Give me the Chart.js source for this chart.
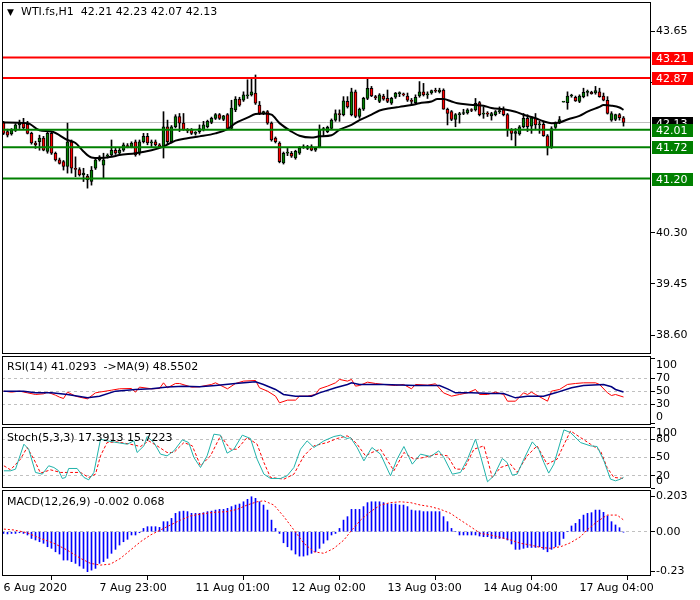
<!DOCTYPE html>
<html>
<head>
<meta charset="utf-8">
<script src="https://cdn.jsdelivr.net/npm/chart.js@4.4.1/dist/chart.umd.min.js"></script>
<style>
html, body { margin: 0; padding: 0; width: 700px; height: 600px; overflow: hidden; background: #fff; }
canvas { position: absolute; left: 0; }
.hdr { position: absolute; font: 11px "DejaVu Sans", sans-serif; color: #000; white-space: pre; line-height: 14px; z-index: 5; }
</style>
</head>
<body>
<canvas id="main" width="700" height="384" style="top:-14px"></canvas>
<canvas id="rsi" width="700" height="101" style="top:340px"></canvas>
<canvas id="stoch" width="700" height="93" style="top:411px"></canvas>
<canvas id="macd" width="700" height="126" style="top:474px"></canvas>
<div class="hdr" style="left:7px;top:5px;font-size:9px">&#9660;</div>
<div class="hdr" id="mainTitle" style="left:21px;top:5px"></div>
<div class="hdr" style="left:7px;top:360px">RSI(14) 41.0293  -&gt;MA(9) 48.5502</div>
<div class="hdr" style="left:7px;top:431px">Stoch(5,3,3) 17.3913 15.7223</div>
<div class="hdr" style="left:7px;top:495px">MACD(12,26,9) -0.002 0.068</div>
<script>
// WTI.fs H1 candles, one entry per hourly bar
const open = [
  42.13, 41.98, 41.94, 42.00, 42.09, 42.12, 42.10, 41.95, 41.79, 41.81,
  41.87, 41.65, 41.95, 41.62, 41.51, 41.48, 41.40, 41.81, 41.37, 41.35,
  41.26, 41.24, 41.15, 41.37, 41.51, 41.42, 41.57, 41.59, 41.67, 41.62,
  41.67, 41.74, 41.73, 41.81, 41.62, 41.81, 41.90, 41.79, 41.81, 41.76,
  41.73, 42.06, 41.81, 42.06, 42.23, 42.12, 42.01, 42.01, 41.95, 41.98,
  42.01, 42.06, 42.13, 42.20, 42.26, 42.18, 42.26, 42.03, 42.34, 42.52,
  42.50, 42.57, 42.59, 42.62, 42.42, 42.28, 42.31, 42.12, 41.87, 41.79,
  41.46, 41.62, 41.62, 41.54, 41.62, 41.71, 41.73, 41.73, 41.67, 41.73,
  42.01, 41.98, 42.03, 42.17, 42.28, 42.26, 42.48, 42.26, 42.64, 42.23,
  42.35, 42.53, 42.70, 42.56, 42.48, 42.57, 42.53, 42.45, 42.55, 42.61,
  42.60, 42.57, 42.49, 42.46, 42.57, 42.64, 42.59, 42.62, 42.66, 42.64,
  42.67, 42.35, 42.31, 42.18, 42.26, 42.28, 42.29, 42.34, 42.34, 42.46,
  42.27, 42.28, 42.24, 42.26, 42.31, 42.34, 42.26, 42.01, 41.95, 41.94,
  42.06, 42.20, 42.07, 42.20, 42.09, 42.10, 41.91, 41.72, 42.05, 42.13,
  42.47, 42.46, 42.57, 42.55, 42.48, 42.56, 42.63, 42.63, 42.62, 42.64,
  42.57, 42.50, 42.17, 42.18, 42.26, 42.21
];
const high = [
  42.15, 42.02, 42.03, 42.11, 42.17, 42.20, 42.15, 41.97, 41.82, 41.92,
  41.90, 41.97, 41.98, 41.64, 41.54, 41.50, 42.12, 41.84, 41.56, 41.38,
  41.37, 41.27, 41.40, 41.53, 41.58, 41.62, 41.61, 41.84, 41.70, 41.70,
  41.79, 41.78, 41.81, 41.84, 41.84, 41.95, 41.95, 41.84, 41.84, 41.78,
  42.31, 42.17, 42.08, 42.26, 42.28, 42.28, 42.03, 42.03, 41.98, 42.09,
  42.15, 42.17, 42.22, 42.28, 42.28, 42.25, 42.28, 42.50, 42.56, 42.55,
  42.64, 42.84, 42.86, 42.92, 42.48, 42.32, 42.33, 42.14, 41.89, 41.81,
  41.64, 41.70, 41.65, 41.67, 41.73, 41.76, 41.75, 41.76, 41.72, 42.09,
  42.05, 42.07, 42.19, 42.34, 42.34, 42.56, 42.56, 42.70, 42.67, 42.37,
  42.55, 42.86, 42.73, 42.58, 42.61, 42.60, 42.67, 42.55, 42.63, 42.64,
  42.62, 42.62, 42.53, 42.59, 42.81, 42.78, 42.64, 42.67, 42.70, 42.70,
  42.69, 42.37, 42.33, 42.28, 42.30, 42.35, 42.36, 42.36, 42.53, 42.48,
  42.39, 42.31, 42.30, 42.33, 42.39, 42.39, 42.28, 42.03, 42.03, 42.08,
  42.28, 42.26, 42.23, 42.28, 42.15, 42.15, 41.93, 42.06, 42.14, 42.23,
  42.47, 42.64, 42.60, 42.57, 42.59, 42.70, 42.67, 42.65, 42.73, 42.70,
  42.62, 42.56, 42.31, 42.27, 42.28, 42.23
];
const low = [
  41.93, 41.89, 41.92, 41.98, 42.03, 42.02, 41.94, 41.77, 41.70, 41.67,
  41.66, 41.62, 41.60, 41.49, 41.44, 41.34, 41.29, 41.29, 41.23, 41.24,
  41.15, 41.04, 41.09, 41.35, 41.49, 41.20, 41.54, 41.56, 41.60, 41.60,
  41.65, 41.71, 41.71, 41.57, 41.59, 41.79, 41.76, 41.73, 41.74, 41.71,
  41.54, 41.76, 41.79, 42.04, 41.98, 42.00, 41.96, 41.93, 41.92, 41.95,
  41.99, 42.04, 42.11, 42.18, 42.18, 42.16, 42.02, 42.01, 42.31, 42.40,
  42.48, 42.53, 42.57, 42.43, 42.26, 42.26, 42.10, 41.82, 41.79, 41.46,
  41.44, 41.58, 41.55, 41.52, 41.60, 41.70, 41.68, 41.66, 41.65, 41.71,
  41.90, 41.96, 42.01, 42.15, 42.15, 42.24, 42.37, 42.24, 42.21, 42.20,
  42.33, 42.51, 42.56, 42.51, 42.46, 42.50, 42.46, 42.43, 42.53, 42.56,
  42.57, 42.48, 42.42, 42.44, 42.55, 42.57, 42.53, 42.60, 42.63, 42.62,
  42.35, 42.09, 42.16, 42.06, 42.12, 42.26, 42.27, 42.31, 42.32, 42.24,
  42.20, 42.23, 42.17, 42.24, 42.28, 42.24, 41.90, 41.84, 41.74, 41.92,
  42.04, 41.98, 41.95, 42.01, 41.95, 41.90, 41.59, 41.70, 42.03, 42.11,
  42.47, 42.35, 42.55, 42.48, 42.46, 42.54, 42.57, 42.60, 42.60, 42.55,
  42.49, 42.27, 42.15, 42.16, 42.17, 42.07
];
const close = [
  41.95, 41.92, 42.00, 42.09, 42.12, 42.04, 41.95, 41.79, 41.76, 41.87,
  41.67, 41.95, 41.62, 41.51, 41.45, 41.40, 41.81, 41.37, 41.35, 41.26,
  41.29, 41.18, 41.34, 41.51, 41.56, 41.51, 41.59, 41.67, 41.62, 41.67,
  41.76, 41.73, 41.79, 41.59, 41.81, 41.90, 41.79, 41.81, 41.76, 41.73,
  42.06, 41.81, 42.06, 42.23, 42.12, 42.01, 41.99, 41.95, 41.96, 42.03,
  42.09, 42.15, 42.20, 42.26, 42.20, 42.24, 42.03, 42.37, 42.52, 42.42,
  42.59, 42.59, 42.64, 42.45, 42.28, 42.31, 42.12, 41.84, 41.81, 41.48,
  41.62, 41.64, 41.57, 41.65, 41.71, 41.73, 41.70, 41.67, 41.70, 42.01,
  42.03, 42.05, 42.17, 42.28, 42.26, 42.49, 42.39, 42.64, 42.23, 42.35,
  42.53, 42.70, 42.57, 42.54, 42.59, 42.52, 42.48, 42.53, 42.62, 42.62,
  42.59, 42.50, 42.48, 42.55, 42.64, 42.59, 42.60, 42.66, 42.65, 42.67,
  42.35, 42.28, 42.18, 42.26, 42.28, 42.29, 42.34, 42.33, 42.45, 42.26,
  42.28, 42.27, 42.28, 42.31, 42.33, 42.26, 42.01, 41.95, 41.98, 42.06,
  42.20, 42.06, 42.21, 42.09, 42.10, 41.91, 41.73, 42.03, 42.13, 42.18,
  42.47, 42.57, 42.58, 42.49, 42.57, 42.63, 42.63, 42.61, 42.66, 42.56,
  42.50, 42.28, 42.28, 42.26, 42.21, 42.13
];

// moving average on price, read as [bar, price]
const maLine = [
  [0, 42.13], [6, 42.12], [9, 42.00], [12, 41.98], [16, 41.84], [18, 41.79], [20, 41.65],
  [22, 41.55], [24, 41.54], [27, 41.56], [29, 41.59], [33, 41.62], [37, 41.67], [40, 41.73],
  [43, 41.83], [46, 41.87], [49, 41.90], [53, 41.95], [56, 42.02], [58, 42.12], [61, 42.21],
  [63, 42.27], [65, 42.28], [67, 42.26], [69, 42.12], [72, 41.98], [74, 41.91], [77, 41.88],
  [79, 41.90], [82, 41.92], [84, 42.01], [87, 42.09], [89, 42.17], [92, 42.26], [94, 42.33],
  [97, 42.37], [99, 42.39], [102, 42.42], [104, 42.45], [107, 42.48], [108.5, 42.52],
  [110, 42.52], [112, 42.48], [113.5, 42.45], [116, 42.43], [118, 42.42], [120, 42.41],
  [122, 42.37], [125, 42.35], [128, 42.31], [130, 42.26], [133, 42.20], [135, 42.15],
  [137, 42.12], [139, 42.13], [141, 42.18], [144, 42.24], [146, 42.31], [149, 42.39],
  [150, 42.42], [152, 42.41], [154, 42.38], [155, 42.34]
];

const resistance = [43.21, 42.87];
const support = [42.01, 41.72, 41.20];
const bid = 42.13;
const priceTicks = [38.60, 39.45, 40.30, 42.80, 43.65];

const rsiLine = [
  [0, 50], [2, 48.5], [4, 50], [6, 47.4], [8, 44.9], [10, 45.9], [11, 48.5], [13, 43.8],
  [14, 40.8], [15, 38.7], [16, 48.5], [18, 42.3], [19, 40.8], [21, 38.2], [23, 47.4],
  [24, 48.5], [27, 51.5], [29, 53.6], [32, 54.1], [33, 48.5], [34, 56.2], [37, 53.6],
  [39, 54.1], [40, 62.8], [41, 55.1], [43, 61.8], [44, 61.8], [47, 56.2], [49, 56.7],
  [52, 60.3], [53, 62.8], [56, 53.6], [58, 61.8], [60, 65.4], [63, 66.4], [64, 55.1],
  [66, 50], [68, 42.3], [69, 32.1], [71, 36.2], [73, 36.2], [74, 42.3], [76, 42.3],
  [78, 44.9], [79, 53.6], [81, 57.7], [83, 62.8], [84, 68], [86, 65.4], [87, 68],
  [88, 57.7], [89, 58.7], [91, 63.8], [93, 61.8], [95, 60.3], [98, 58.7], [100, 60.3],
  [102, 53.6], [103, 60.3], [106, 59.2], [108, 61.3], [110, 47.4], [112, 42.3], [114, 44.9],
  [116, 47.4], [118, 52.6], [119, 44.9], [121, 44.9], [123, 48.5], [125, 44.9], [126, 34.6],
  [128, 34.6], [130, 47.4], [131, 44.9], [132, 48.5], [133, 44.9], [136, 34.6], [137, 50],
  [139, 52.6], [141, 60.3], [143, 61.8], [145, 62.8], [148, 62.8], [149, 60.3], [151, 47.4],
  [152, 43.3], [153, 44.9], [155, 41.0]
];
const rsiMa = [
  [0, 50], [5, 50], [8, 47.4], [12, 47.4], [16, 44.9], [21, 39.7], [24, 42.3], [28, 50],
  [33, 52.6], [37, 53.6], [41, 56.2], [45, 57.7], [49, 56.7], [53, 58.7], [58, 61.8],
  [63, 64.4], [65, 60.3], [68, 52.6], [70, 44.9], [73, 42.3], [77, 42.3], [79, 47.4],
  [83, 55.1], [86, 60.3], [87, 62.8], [89, 60.3], [95, 60.3], [103, 58.7], [109, 58.7],
  [111, 53.6], [113, 47.4], [117, 47.4], [122, 46.4], [125, 46.4], [128, 39.7], [131, 42.3],
  [135, 42.3], [138, 47.4], [142, 55.1], [145, 58.7], [150, 60.3], [152, 56.7], [153, 52.6],
  [155, 48.6]
];
const rsiTicks = [0, 30, 50, 70, 100];
const rsiLevels = [30, 50, 70];

const stochMain = [
  [0.1, 28.2], [1.75, 28.2], [3, 30.9], [5.1, 71.8], [6.3, 63.6], [8, 25.5], [9.7, 22.7],
  [11.3, 36.4], [12.6, 33.6], [13.8, 28.2], [14.7, 15.6], [15.5, 17.3], [16.3, 32], [18.4, 32],
  [20.1, 17.3], [21.3, 13.4], [22.6, 25.5], [24.25, 80], [25.9, 77.3], [28.4, 74.5],
  [30.9, 71.8], [32.6, 77.3], [33.4, 58.2], [35.1, 69.1], [35.9, 84.4], [37.6, 74.5],
  [39.25, 55.5], [40.9, 52.7], [42.6, 60.9], [44.7, 78.9], [46.3, 74.5], [47.6, 50],
  [49.25, 33.6], [50.9, 52.7], [52.6, 88.2], [54.25, 86.6], [55.9, 57.1], [57.6, 63.6],
  [59.7, 86.6], [61.75, 81.1], [63.4, 47.3], [65.1, 22.7], [66.75, 15.6], [69.25, 15.6],
  [70.9, 20], [72.6, 33.6], [74.25, 63.6], [75.9, 77.3], [77.6, 66.4], [80.1, 77.3],
  [82.6, 84.4], [84.25, 86.6], [85.9, 81.1], [86.75, 82.7], [88.4, 66.4], [90.1, 44.5],
  [92.1, 66.4], [94.25, 55.5], [96.75, 20], [98.4, 47.3], [100.1, 68], [102.2, 39.1],
  [104.25, 55.5], [106.75, 51.6], [108.8, 60.9], [110.1, 50], [112.2, 22.7], [114.25, 25.5],
  [116, 47.3], [118, 80], [119.25, 52.7], [121, 10.2], [122.6, 20], [124.7, 48.4],
  [125.9, 41.8], [127.2, 21.1], [128.4, 22.7], [130.1, 47.3], [132.2, 75.6], [133.8, 63.6],
  [135.1, 41.8], [136.3, 24.4], [137.6, 39.1], [140.1, 95.3], [141.75, 90.9], [144.25, 74.5],
  [146.75, 69.1], [148.4, 68], [150.1, 44.5], [151.75, 14.5], [153, 11.8], [154.25, 14.5],
  [155, 17.4]
];
const stochSignal = [
  [0.1, 36.4], [1.75, 29.8], [4.25, 47.3], [5.9, 66.4], [7.6, 47.3], [9.25, 24.4],
  [11.75, 29.8], [14.25, 25.5], [16.75, 25.5], [19.25, 25.5], [21.3, 17.3], [23, 22.7],
  [24.25, 52.7], [25.9, 74.5], [28.4, 75.6], [31.75, 71.8], [34.25, 68], [36.3, 77.3],
  [38.4, 69.1], [40.9, 58.2], [42.6, 58.2], [45.1, 74.5], [47.2, 69.1], [49.25, 36.4],
  [51.75, 52.7], [54.25, 85.5], [56.75, 63.6], [58.4, 63.6], [60.9, 82.7], [63.4, 71.8],
  [65.1, 41.8], [66.75, 17.3], [70.1, 14.5], [72.6, 22.7], [75.1, 52.7], [77.6, 69.1],
  [80.9, 74.5], [83.4, 81.1], [85.9, 85.5], [86.75, 82.7], [88.4, 71.8], [90.5, 52.7],
  [92.1, 58.2], [94.25, 63.6], [97.6, 28.2], [100.1, 58.2], [102.6, 47.3], [105.1, 50],
  [108.4, 55.5], [111, 52.7], [113, 30.9], [115.1, 30.9], [117.6, 63.6], [120.1, 69.1],
  [122.2, 17.3], [124.25, 33.6], [126.75, 39.1], [128.4, 25.5], [130.9, 52.7], [133.4, 69.1],
  [135.9, 39.1], [138.4, 47.3], [141.75, 93.6], [144.25, 82.7], [146.75, 71.8], [149.25, 60.9],
  [150.9, 33.6], [152.6, 17.3], [155, 15.7]
];
const stochTicks = [0, 20, 50, 80, 100];
const stochLevels = [20, 50, 80];

// MACD main (histogram), one value per bar
const macdHist = [
  -0.010, -0.013, -0.010, -0.010, -0.006, -0.010, -0.019, -0.039, -0.048, -0.058,
  -0.067, -0.087, -0.096, -0.116, -0.129, -0.164, -0.164, -0.173, -0.183, -0.198,
  -0.212, -0.231, -0.222, -0.212, -0.183, -0.173, -0.154, -0.125, -0.102, -0.077,
  -0.058, -0.044, -0.019, -0.019, -0.006, 0.019, 0.029, 0.029, 0.029, 0.025,
  0.058, 0.058, 0.077, 0.106, 0.116, 0.119, 0.116, 0.106, 0.106, 0.106,
  0.110, 0.116, 0.119, 0.125, 0.129, 0.129, 0.135, 0.145, 0.154, 0.160,
  0.173, 0.187, 0.202, 0.193, 0.173, 0.154, 0.125, 0.067, 0.019, -0.010,
  -0.064, -0.087, -0.106, -0.129, -0.141, -0.141, -0.135, -0.125, -0.116, -0.096,
  -0.067, -0.048, -0.019, -0.010, 0.019, 0.067, 0.087, 0.129, 0.129, 0.129,
  0.145, 0.168, 0.173, 0.173, 0.173, 0.168, 0.160, 0.160, 0.160, 0.154,
  0.154, 0.145, 0.125, 0.121, 0.121, 0.116, 0.116, 0.116, 0.116, 0.116,
  0.087, 0.058, 0.019, 0.000, -0.019, -0.019, -0.019, -0.019, -0.019, -0.025,
  -0.029, -0.029, -0.039, -0.039, -0.039, -0.039, -0.048, -0.071, -0.102, -0.102,
  -0.096, -0.091, -0.091, -0.091, -0.087, -0.102, -0.116, -0.102, -0.087, -0.077,
  -0.039, 0.000, 0.033, 0.048, 0.071, 0.096, 0.106, 0.110, 0.125, 0.125,
  0.112, 0.091, 0.058, 0.039, 0.023, -0.002
];
const macdSignal = [
  [0.1, 0.015], [2.6, 0.010], [5.9, -0.006], [9.25, -0.039], [12.6, -0.067], [15.9, -0.106],
  [19.25, -0.154], [21.75, -0.183], [24.25, -0.193], [26.75, -0.187], [29.25, -0.154],
  [31.75, -0.106], [34.25, -0.058], [36.75, -0.019], [39.25, 0.010], [41.75, 0.039],
  [44.25, 0.067], [46.75, 0.091], [49.25, 0.102], [52.6, 0.112], [55.9, 0.116], [58.4, 0.129],
  [60.9, 0.154], [63.4, 0.173], [65.1, 0.179], [67.6, 0.154], [70.1, 0.087], [72.6, 0.010],
  [75.1, -0.067], [77.6, -0.116], [80.1, -0.125], [82.6, -0.096], [85.1, -0.048],
  [86.75, 0.000], [89.25, 0.067], [91.75, 0.116], [94.25, 0.154], [96.75, 0.168],
  [99.25, 0.173], [101.75, 0.168], [104.25, 0.154], [106.75, 0.145], [109.25, 0.129],
  [111.75, 0.106], [114.25, 0.067], [116.75, 0.029], [119.25, -0.010], [121.75, -0.019],
  [124.25, -0.033], [126.75, -0.048], [129.25, -0.067], [131.75, -0.077], [134.25, -0.091],
  [136.75, -0.096], [139.25, -0.087], [141.75, -0.064], [144.25, -0.029], [145.9, 0.010],
  [148.4, 0.058], [150.9, 0.096], [153.4, 0.096], [155, 0.068]
];
const macdTicks = [-0.23, 0, 0.203];
const macdTickLabels = ['-0.23', '0.00', '0.203'];

const timeTicks = [0, 24, 48, 72, 96, 120, 144];
const timeLabels = ['6 Aug 2020', '7 Aug 23:00', '11 Aug 01:00', '12 Aug 02:00', '13 Aug 03:00', '14 Aug 04:00', '17 Aug 04:00'];

const FONT = { family: '"DejaVu Sans", sans-serif', size: 11 };
const X_MIN = -0.375, X_MAX = 161.875;   // 4 px per bar
const BULL = '#008000', BEAR = '#ff0000';

const last = close.length - 1;
document.getElementById('mainTitle').textContent =
  'WTI.fs,H1  ' + [open[last], high[last], low[last], close[last]].map(v => v.toFixed(2)).join(' ');

const pts = arr => arr.map(p => ({ x: p[0], y: p[1] }));
const flat = v => [{ x: X_MIN - 2, y: v }, { x: X_MAX + 2, y: v }];

const framePlugin = {
  id: 'frame',
  afterDraw(chart) {
    const { ctx, chartArea: a } = chart;
    ctx.save();
    ctx.strokeStyle = '#000';
    ctx.lineWidth = 1;
    ctx.strokeRect(a.left + 0.5, a.top + 0.5, a.right - a.left - 1, a.bottom - a.top - 1);
    ctx.restore();
  }
};

// coloured price tags on the right axis for the horizontal lines
const tagList = [[43.21, BEAR], [42.87, BEAR], [bid, '#000'], [42.01, BULL], [41.72, BULL], [41.20, BULL]];
const tagPlugin = {
  id: 'tags',
  afterDraw(chart) {
    const { ctx } = chart, y = chart.scales.y, x0 = chart.chartArea.right + 1;
    ctx.save();
    ctx.font = '11px "DejaVu Sans", sans-serif';
    ctx.textBaseline = 'middle';
    tagList.forEach(([v, bg]) => {
      const py = Math.round(y.getPixelForValue(v));
      ctx.fillStyle = bg;
      ctx.fillRect(x0, py - 6, 41, 13);
      ctx.fillStyle = '#fff';
      ctx.fillText(v.toFixed(2), x0 + 4, py + 1);
    });
    ctx.restore();
  }
};

function yAxis(min, max, ticks, label, levels) {
  return {
    position: 'right', min: min, max: max,
    afterBuildTicks: s => { s.ticks = ticks.map(v => ({ value: v })); },
    afterFit: s => { s.width = 49; },
    ticks: { autoSkip: false, color: '#000', font: FONT, padding: 1, callback: label },
    grid: {
      drawOnChartArea: !!levels,
      color: c => (levels && c.tick && levels.includes(c.tick.value)) ? '#c0c0c0' : 'rgba(0,0,0,0)',
      tickLength: 4, tickColor: '#000', tickWidth: 1
    },
    border: { display: false, dash: [3, 3] }
  };
}

const xHidden = { type: 'linear', min: X_MIN, max: X_MAX, offset: false, display: false };

function options(y, x, padBottom) {
  return {
    responsive: false, animation: false, events: [],
    layout: { padding: { left: 2, right: 0, top: 16, bottom: padBottom } },
    plugins: { legend: { display: false }, tooltip: { enabled: false } },
    scales: { x: x, y: y }
  };
}

const edgeLabel = v => v === 100 ? ['', '100'] : v === 0 ? ['0', ''] : String(v);

// price panel
new Chart(document.getElementById('main'), {
  type: 'bar',
  data: {
    datasets: [
      ...resistance.map(v => ({ type: 'line', data: flat(v), borderColor: BEAR, borderWidth: 2, pointRadius: 0, clip: 0, order: 0 })),
      ...support.map(v => ({ type: 'line', data: flat(v), borderColor: BULL, borderWidth: 2, pointRadius: 0, clip: 0, order: 0 })),
      { type: 'line', data: pts(maLine), borderColor: '#000', borderWidth: 2, pointRadius: 0, cubicInterpolationMode: 'monotone', order: 1 },
      {
        data: close.map((c, i) => ({ x: i, y: [open[i], c] })),
        backgroundColor: c => close[c.dataIndex] >= open[c.dataIndex] ? BULL : BEAR,
        borderColor: '#000', borderWidth: 1, borderSkipped: false,
        barThickness: 3, minBarLength: 1, grouped: false, order: 2
      },
      { data: close.map((c, i) => ({ x: i, y: [low[i], high[i]] })), backgroundColor: '#000', barThickness: 1, grouped: false, order: 3 },
      { type: 'line', data: flat(bid), borderColor: '#c0c0c0', borderWidth: 1, pointRadius: 0, clip: 0, order: 4 }
    ]
  },
  options: options(yAxis(38.285, 44.132, priceTicks, v => v.toFixed(2), null), xHidden, 16),
  plugins: [framePlugin, tagPlugin]
});

// RSI panel
new Chart(document.getElementById('rsi'), {
  type: 'line',
  data: {
    datasets: [
      { data: pts(rsiMa), borderColor: '#000080', borderWidth: 1.5, pointRadius: 0 },
      { data: pts(rsiLine), borderColor: '#ff0000', borderWidth: 1, pointRadius: 0 }
    ]
  },
  options: options(yAxis(-2, 104, rsiTicks, edgeLabel, rsiLevels), xHidden, 16),
  plugins: [framePlugin]
});

// Stochastic panel
new Chart(document.getElementById('stoch'), {
  type: 'line',
  data: {
    datasets: [
      { data: pts(stochMain), borderColor: '#20b2aa', borderWidth: 1, pointRadius: 0 },
      { data: pts(stochSignal), borderColor: '#ff0000', borderWidth: 1, borderDash: [3, 2], pointRadius: 0 }
    ]
  },
  options: options(yAxis(0, 100, stochTicks, edgeLabel, stochLevels), xHidden, 16),
  plugins: [framePlugin]
});

// MACD panel with the time axis
new Chart(document.getElementById('macd'), {
  type: 'bar',
  data: {
    datasets: [
      { type: 'line', data: pts(macdSignal), borderColor: '#ff0000', borderWidth: 1, borderDash: [2, 2], pointRadius: 0, order: 0 },
      { data: macdHist.map((v, i) => ({ x: i, y: v })), backgroundColor: '#0000ff', barThickness: 1, grouped: false, order: 1 }
    ]
  },
  options: options(
    yAxis(-0.256, 0.241, macdTicks, v => macdTickLabels[macdTicks.indexOf(v)], [0]),
    {
      type: 'linear', min: X_MIN, max: X_MAX, offset: false, position: 'bottom',
      afterBuildTicks: s => { s.ticks = timeTicks.map(v => ({ value: v })); },
      afterFit: s => { s.height = 20; },
      ticks: {
        autoSkip: false, maxRotation: 0, minRotation: 0, align: 'start', color: '#000', font: FONT, padding: 2,
        callback: v => timeLabels[timeTicks.indexOf(v)]
      },
      grid: { drawOnChartArea: false, tickLength: 4, tickColor: '#000' },
      border: { display: false }
    },
    4
  ),
  plugins: [framePlugin]
});
</script>
</body>
</html>
